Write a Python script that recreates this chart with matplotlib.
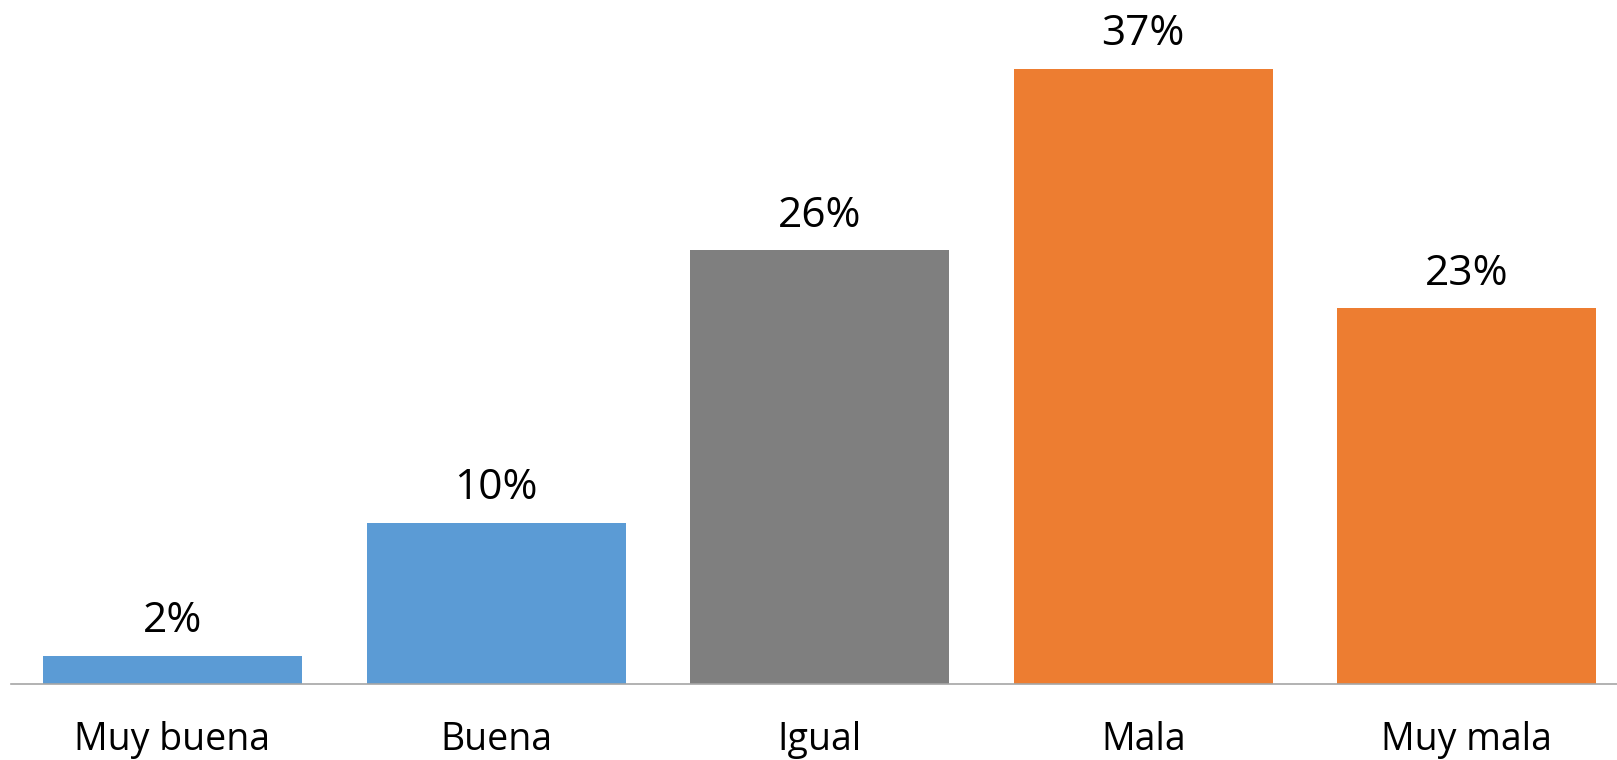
import numpy as np
import matplotlib.pyplot as plt

categories = ['Muy buena', 'Buena', 'Igual', 'Mala', 'Muy mala']
values = [1.7, 9.7, 26.1, 37.0, 22.6]
colors = ['#5B9BD5', '#5B9BD5', '#7F7F7F', '#ED7D31', '#ED7D31']

plt.rcParams['font.family'] = ['Open Sans', 'DejaVu Sans']

W, H = 1617, 760
fig = plt.figure(figsize=(W / 100, H / 100), dpi=100)

# axes placed in pixels: left edge at x~10.7, baseline at y~684, one category ~323.6 px
left, base, step = 10.7, 684, 323.6
ymax = 40
px_per_unit = 615 / 37.0
ax = fig.add_axes([left / W, (H - base) / H, 5 * step / W, ymax * px_per_unit / H])

x = np.arange(len(categories))
ax.bar(x, values, width=0.8, color=colors)

for xi, v in zip(x, values):
    ax.annotate('{:.0f}%'.format(v), (xi, v), xytext=(0, 17), textcoords='offset points',
                ha='center', va='baseline', fontsize=30.5, color='black')

ax.set_xlim(-0.5, len(categories) - 0.5)
ax.set_ylim(0, ymax)
ax.set_xticks(x)
ax.set_xticklabels(categories, fontsize=27)
ax.tick_params(axis='x', length=0, pad=26.5)
ax.set_yticks([])
for s in ['top', 'right', 'left']:
    ax.spines[s].set_visible(False)
ax.spines['bottom'].set_color('#A6A6A6')
ax.spines['bottom'].set_linewidth(1.2)

fig.savefig('out.png', dpi=100)
